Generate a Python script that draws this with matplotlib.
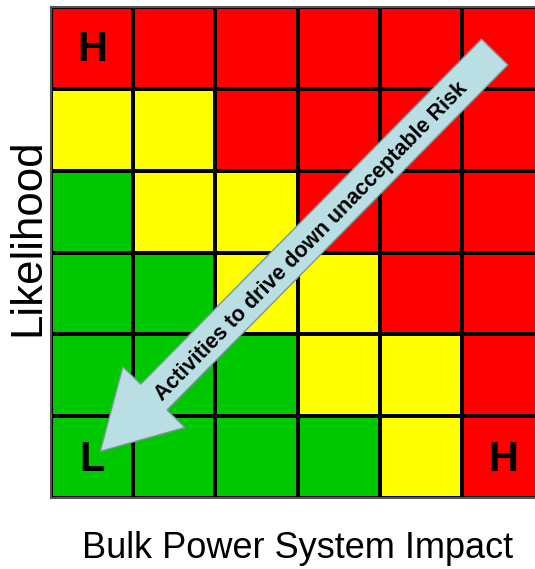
import numpy as np
import matplotlib.pyplot as plt
from matplotlib.colors import ListedColormap
from matplotlib.patches import FancyArrow

# Risk level per cell, rows from top (high likelihood) to bottom (low likelihood)
# 0 = green, 1 = yellow, 2 = red
risk_levels = [
    [2, 2, 2, 2, 2, 2],
    [1, 1, 2, 2, 2, 2],
    [0, 1, 1, 2, 2, 2],
    [0, 0, 1, 1, 2, 2],
    [0, 0, 0, 1, 1, 2],
    [0, 0, 0, 0, 1, 2],
]
level_colors = ["#00C800", "#FFFF00", "#FF0000"]
corner_labels = ["H", "L", "H"]
corner_cells = [(0, 5), (0, 0), (5, 0)]  # (column, row from bottom)
arrow_text = "Activities to drive down unacceptable Risk"
x_label = "Bulk Power System Impact"
y_label = "Likelihood"

fig = plt.figure(figsize=(5.35, 5.69), dpi=100)
ax = fig.add_axes([51 / 535, 71 / 569, 493 / 535, 491 / 569])

grid = np.array(risk_levels)[::-1]
ax.pcolormesh(grid, cmap=ListedColormap(level_colors), vmin=-0.5, vmax=2.5,
              edgecolors="black", linewidth=1.5)
ax.set_xlim(0, 6)
ax.set_ylim(0, 6)
ax.set_xticks([])
ax.set_yticks([])
for s in ax.spines.values():
    s.set_color("#555555")
    s.set_linewidth(1.5)

for lab, (cx, cy) in zip(corner_labels, corner_cells):
    ax.text(cx + 0.5, cy + 0.47, lab, ha="center", va="center",
            fontsize=30, fontweight="bold", family="Liberation Sans")

# arrow from top-right to bottom-left
tail = (5.40, 5.45)
tip = (0.60, 0.57)
arr = FancyArrow(tail[0], tail[1], tip[0] - tail[0], tip[1] - tail[1],
                 width=0.45, head_width=1.06, head_length=0.93,
                 length_includes_head=True, facecolor="#B9DEE3",
                 edgecolor="#7A9699", linewidth=1.0, zorder=3)
ax.add_patch(arr)
ax.text(3.17, 3.13, arrow_text, rotation=45.6, rotation_mode="anchor",
        ha="center", va="center", fontsize=15.5, fontweight="bold",
        family="Liberation Sans", zorder=4)

fig.text(298 / 535, 1 - 548 / 569, x_label, ha="center", va="center",
         fontsize=26, family="Liberation Sans")
fig.text(28 / 535, 1 - 237 / 569, y_label, ha="center", va="center",
         rotation=90, fontsize=31.5, family="Liberation Sans")

fig.savefig("out.png", dpi=100)
